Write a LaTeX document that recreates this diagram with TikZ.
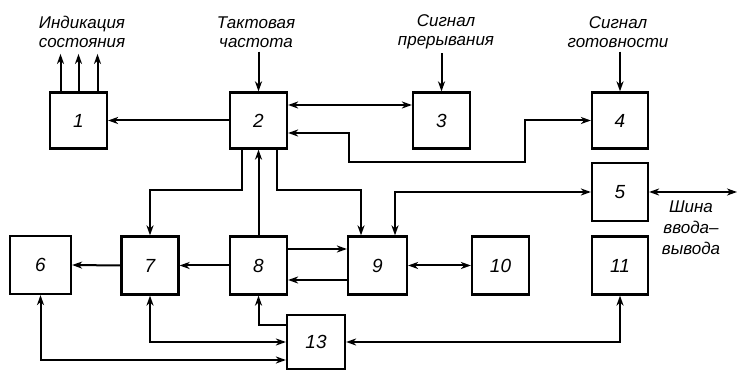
\documentclass[tikz,border=0pt]{standalone}
\usepackage{fontspec}
\setmainfont{Liberation Sans}
\usetikzlibrary{arrows.meta}
\begin{document}
\begin{tikzpicture}[x=1pt,y=-1pt,
  blk/.style={draw,line width=2.2pt,minimum width=57pt,minimum height=56pt,inner sep=0pt,font=\fontsize{19}{21}\selectfont\itshape},
  lbl/.style={align=center,inner sep=1pt,font=\fontsize{17}{19}\selectfont\itshape},
  ln/.style={line width=2pt},
  tip/.tip={Stealth[length=10pt,width=7pt,inset=3pt]},
  arr/.style={ln,-tip},
  dbl/.style={ln,tip-tip}]
\useasboundingbox (0,0) rectangle (739,371);
% blocks
\node[blk] (b1) at (78.5,120.5) {1};
\node[blk] (b2) at (258.5,120.5) {2};
\node[blk] (b3) at (441.5,120.5) {3};
\node[blk,minimum width=56pt] (b4) at (620,120.5) {4};
\node[blk,minimum width=56pt,minimum height=58pt] (b5) at (620,192) {5};
\node[blk,minimum width=61pt,minimum height=58pt] (b6) at (40.5,265) {6};
\node[blk,minimum height=58pt] (b7) at (150,265.5) {7};
\node[blk,minimum height=58pt] (b8) at (258.5,265.5) {8};
\node[blk,minimum width=59pt,minimum height=58pt] (b9) at (377.5,265.5) {9};
\node[blk,minimum height=58pt] (b10) at (500.5,265.5) {10};
\node[blk,minimum width=56pt,minimum height=58pt] (b11) at (620,265.5) {11};
\node[blk,minimum width=58pt,minimum height=54pt] (b13) at (316,342) {13};
% labels
\node[lbl] (l1) at (82,32) {Индикация\\состояния};
\node[lbl] (l2) at (256,32) {Тактовая\\частота};
\node[lbl] (l3) at (446,32) {Сигнал\\прерывания};
\node[lbl] (l4) at (618,32) {Сигнал\\готовности};
\node[lbl,font=\fontsize{17}{21}\selectfont\itshape] (l5) at (691,228) {Шина\\ввода–\\вывода};
\coordinate (bus) at (737,192);
% top inputs/outputs
\draw[arr] ([xshift=-18pt]b1.north) -- ([xshift=-18pt,yshift=-5pt]b1.north |- l1.south);
\draw[arr] (b1.north) -- ([yshift=-5pt]b1.north |- l1.south);
\draw[arr] ([xshift=19pt]b1.north) -- ([xshift=19pt,yshift=-5pt]b1.north |- l1.south);
\draw[arr] ([yshift=-3pt]l2.south -| b2.north) -- (b2.north);
\draw[arr] ([yshift=-3pt]l3.south -| b3.north) -- (b3.north);
\draw[arr] ([yshift=-3pt]l4.south -| b4.north) -- (b4.north);
% connections
\draw[arr] (b2.west) -- (b1.east);
\draw[dbl] ([yshift=15.5pt]b2.east) -- ([yshift=15.5pt]b3.west);
\draw[dbl] ([yshift=-12.5pt]b2.east) -- (349,133) -- (349,162) -- (525,162) -- (525,120.5) -- (b4.west);
\draw[arr] ([xshift=-16.5pt]b2.south) |- (150,190) -- (b7.north);
\draw[arr] (b8.north) -- (b2.south);
\draw[arr] ([xshift=18.5pt]b2.south) |- (361,190) -- ([xshift=-16.5pt]b9.north);
\draw[dbl] ([xshift=17.5pt]b9.north) |- (b5.west);
\draw[dbl] (b5.east) -- (bus);
\draw[arr] ([yshift=16.5pt]b8.east) -- ([yshift=16.5pt]b9.west);
\draw[arr] ([yshift=-14.5pt]b9.west) -- ([yshift=-14.5pt]b8.east);
\draw[dbl] (b9.east) -- (b10.west);
\draw[arr] (b8.west) -- (b7.east);
\draw[arr] (b7.west) -- (b6.east);
\draw[arr] ([yshift=17pt]b13.west) -| (b8.south);
\draw[dbl] (b7.south) |- (b13.west);
\draw[dbl] (b6.south) |- ([yshift=-18pt]b13.west);
\draw[dbl] (b13.east) -| (b11.south);
\end{tikzpicture}
\end{document}
